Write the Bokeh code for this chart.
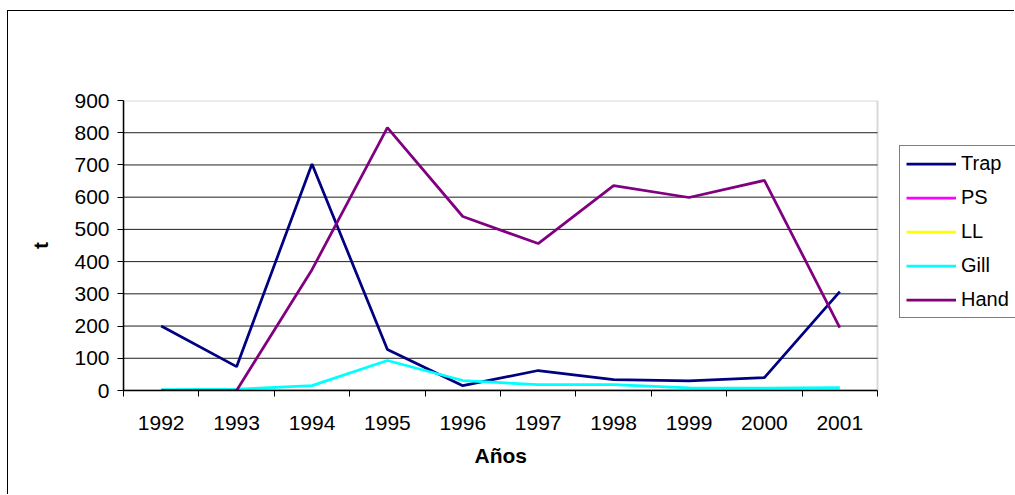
from bokeh.plotting import figure
from bokeh.models import Range1d, FixedTicker, Legend, LegendItem, BoxAnnotation, Title
from bokeh.embed import file_html
from bokeh.resources import INLINE

years = [1992, 1993, 1994, 1995, 1996, 1997, 1998, 1999, 2000, 2001]
trap = [200, 74, 703, 127, 15, 62, 34, 30, 40, 307]
ps = [0, 0, 0, 0, 0, 0, 0, 0, 0, 0]
ll = [0, 0, 0, 0, 0, 0, 0, 0, 0, 0]
gill = [3, 4, 15, 93, 31, 18, 18, 8, 7, 9]
hand = [0, 0, 375, 816, 540, 456, 636, 599, 652, 195]
y_ticks = [0, 100, 200, 300, 400, 500, 600, 700, 800, 900]
x_title = "Años"
y_title = "t"

series = [("Trap", trap, "#000080"), ("PS", ps, "#FF00FF"), ("LL", ll, "#FFFF00"),
          ("Gill", gill, "#00FFFF"), ("Hand", hand, "#800080")]

FONT = "Liberation Sans"

# plot area spans the category band; the canvas extends to the right to host the legend
x_lo = years[0] - 0.5
x_hi = years[-1] + 0.5
px_per_year = 75.4
frame_px = 1007 - 115
x_view_end = x_lo + frame_px / px_per_year

p = figure(width=1007, height=484, output_backend="svg", toolbar_location=None,
           x_range=Range1d(x_lo, x_view_end), y_range=Range1d(0, 900),
           min_border_left=115, min_border_right=0, min_border_top=89, min_border_bottom=105)
p.margin = (10, 0, 0, 7)
p.styles = {"border-left": "1px solid black", "border-top": "1px solid black"}

p.outline_line_color = None
p.xgrid.visible = False
p.ygrid.visible = False

# plot-area border (grey) behind everything
p.add_layout(BoxAnnotation(left=x_lo, right=x_hi, bottom=y_ticks[0], top=y_ticks[-1],
                           fill_color=None, line_color="#808080", line_width=2, level="underlay"))
# horizontal gridlines restricted to the plot area
p.segment(x0=x_lo, x1=x_hi, y0=y_ticks[1:-1], y1=y_ticks[1:-1], line_color="#202020", line_width=1)

items = []
for name, vals, col in series:
    r = p.line(years, vals, line_color=col, line_width=2.75)
    items.append(LegendItem(label=name, renderers=[r]))

boundaries = [y - 0.5 for y in years] + [years[-1] + 0.5]
p.xaxis.ticker = FixedTicker(ticks=years, minor_ticks=boundaries)
p.xaxis.bounds = (x_lo, x_hi)
p.xaxis.major_tick_out = 0
p.xaxis.major_tick_in = 0
p.xaxis.minor_tick_out = 6
p.xaxis.minor_tick_in = 0
p.xaxis.minor_tick_line_color = "black"
p.xaxis.major_label_standoff = 19

p.yaxis.ticker = FixedTicker(ticks=y_ticks)
p.yaxis.minor_tick_line_color = None
p.yaxis.major_tick_out = 6
p.yaxis.major_tick_in = 0
p.yaxis.major_label_standoff = 8
p.yaxis.axis_label = y_title
p.yaxis.axis_label_standoff = 19

for ax in (p.xaxis[0], p.yaxis[0]):
    ax.axis_line_color = "black"
    ax.axis_line_width = 1.5
    ax.major_tick_line_color = "black"
    ax.major_label_text_font = FONT
    ax.major_label_text_font_size = "21px"
    ax.major_label_text_color = "black"
    ax.axis_label_text_font = FONT
    ax.axis_label_text_font_size = "21px"
    ax.axis_label_text_font_style = "bold"
    ax.axis_label_text_color = "black"

# x-axis title centred under the plot area (not the wider canvas)
xt = Title(text=x_title, align="left", offset=351, standoff=19,
           text_font=FONT, text_font_size="21px", text_font_style="bold", text_color="black")
p.add_layout(xt, "below")

legend = Legend(items=items, location=(776, 72))
legend.label_text_font = FONT
legend.label_text_font_size = "20px"
legend.label_text_color = "black"
legend.glyph_width = 50
legend.glyph_height = 21
legend.label_height = 21
legend.label_standoff = 5
legend.spacing = 11
legend.padding = 6
legend.margin = 0
legend.border_line_color = "black"
legend.border_line_width = 1
legend.background_fill_alpha = 1
p.add_layout(legend, "center")

open("out.html", "w").write(file_html(p, INLINE))
